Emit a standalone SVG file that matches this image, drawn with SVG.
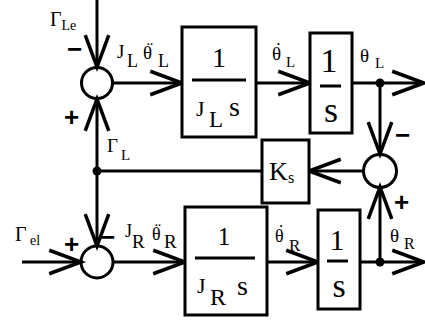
<svg xmlns="http://www.w3.org/2000/svg" width="425" height="320" viewBox="0 0 425 320">
<defs>
<style>
.ln{stroke:#000;stroke-width:3;fill:none}
.ar{marker-end:url(#arr)}
.bx{stroke:#000;stroke-width:3;fill:#fff}
.t{font-family:"Liberation Serif","Times New Roman",serif;fill:#000}
.dm{text-anchor:middle}
.sg{font-family:"Liberation Sans",Arial,sans-serif;font-weight:bold;fill:#000;font-size:26px}
</style>
<marker id="arr" markerUnits="userSpaceOnUse" orient="auto" refX="0" refY="0" markerWidth="40" markerHeight="40" viewBox="-30 -15 34 30" overflow="visible">
<path d="M-27,-10 L0,0 L-27,10" stroke="#000" stroke-width="3" fill="none"/>
</marker>
</defs>
<rect width="425" height="320" fill="#fff"/>
<g id="connectors">
<line class="ln ar" x1="97" y1="0" x2="97" y2="67"/>
<line class="ln ar" x1="112.5" y1="83" x2="182" y2="83"/>
<line class="ln ar" x1="256" y1="83" x2="310" y2="83"/>
<line class="ln ar" x1="352" y1="83" x2="424" y2="83"/>
<line class="ln ar" x1="380" y1="83" x2="380" y2="154"/>
<line class="ln ar" x1="364" y1="171" x2="309" y2="171"/>
<line class="ln" x1="262" y1="171" x2="97" y2="171"/>
<line class="ln ar" x1="97" y1="171" x2="97" y2="99"/>
<line class="ln ar" x1="97" y1="171" x2="97" y2="246"/>
<line class="ln ar" x1="22" y1="262" x2="81" y2="262"/>
<line class="ln ar" x1="113" y1="262" x2="185" y2="262"/>
<line class="ln ar" x1="267" y1="262" x2="318" y2="262"/>
<line class="ln ar" x1="360" y1="262" x2="424" y2="262"/>
<line class="ln ar" x1="380" y1="262" x2="380" y2="187"/>
<circle cx="380" cy="83" r="4.5" fill="#000"/>
<circle cx="97" cy="171" r="4.5" fill="#000"/>
<circle cx="380" cy="262" r="4.5" fill="#000"/>
</g>
<g id="labels">
<text class="t" x="50" y="26" font-size="20">Γ<tspan font-size="14" dy="4">Le</tspan></text>
<text class="t" x="117" y="58" font-size="19">J<tspan font-size="18" x="127" y="67">L</tspan><tspan x="143" y="59">θ</tspan><tspan font-size="18" x="158" y="67">L</tspan></text>
<text class="t dm" x="150" y="55" font-size="19">¨</text>
<text class="t" x="272" y="60" font-size="19">θ<tspan font-size="15" x="286" y="67">L</tspan></text>
<text class="t dm" x="278.5" y="56" font-size="19">˙</text>
<text class="t" x="360" y="62" font-size="19">θ<tspan font-size="15" x="375" y="68">L</tspan></text>
<text class="t" x="107" y="152" font-size="19">Γ<tspan font-size="15" x="121" y="160">L</tspan></text>
<text class="t" x="15" y="241" font-size="20">Γ<tspan font-size="14" x="30" y="245">el</tspan></text>
<text class="t" x="125" y="237" font-size="18">J<tspan font-size="19" x="132" y="248">R</tspan><tspan x="152" y="240">θ</tspan><tspan font-size="19" x="164" y="248">R</tspan></text>
<text class="t dm" x="158" y="236" font-size="18">¨</text>
<text class="t" x="275" y="242" font-size="18">θ<tspan font-size="17" x="289" y="251">R</tspan></text>
<text class="t dm" x="281" y="238" font-size="18">˙</text>
<text class="t" x="390" y="242" font-size="19">θ<tspan font-size="16" x="404" y="249">R</tspan></text>
<text class="sg" x="67" y="58">−</text>
<text class="sg" x="64" y="126">+</text>
<text class="sg" x="100" y="246">−</text>
<text class="sg" x="64" y="253">+</text>
<text class="sg" x="395" y="144">−</text>
<text class="sg" x="394" y="211">+</text>
</g>
<g id="sum_top"><circle class="ln" cx="97" cy="83" r="15.5" fill="#fff"/></g>
<g id="sum_right"><circle class="ln" cx="380" cy="171" r="16.5" fill="#fff"/></g>
<g id="sum_bottom"><circle class="ln" cx="97" cy="262" r="16" fill="#fff"/></g>
<g id="box_JL">
<rect class="bx" x="182" y="27" width="74" height="110"/>
<line class="ln" x1="192" y1="80" x2="246" y2="80"/>
<text class="t" x="219" y="67" font-size="28" text-anchor="middle">1</text>
<text class="t" x="196" y="116" font-size="22">J<tspan font-size="23" x="209" y="127">L</tspan><tspan font-size="28" x="229" y="116">s</tspan></text>
</g>
<g id="box_int_L">
<rect class="bx" x="310" y="33" width="42" height="100"/>
<line class="ln" x1="320" y1="86" x2="341" y2="86"/>
<text class="t" x="329" y="72" font-size="34" text-anchor="middle">1</text>
<text class="t" x="331" y="122" font-size="36" text-anchor="middle">s</text>
</g>
<g id="box_Ks">
<rect class="bx" x="262" y="140" width="47" height="63"/>
<text class="t" x="269" y="180" font-size="26">K<tspan font-size="16" x="288" y="183">s</tspan></text>
</g>
<g id="box_JR">
<rect class="bx" x="185" y="207" width="82" height="108"/>
<line class="ln" x1="195" y1="258" x2="255" y2="258"/>
<text class="t" x="224" y="245" font-size="25" text-anchor="middle">1</text>
<text class="t" x="197" y="293" font-size="22">J<tspan font-size="24" x="210" y="305">R</tspan><tspan font-size="28" x="237" y="295">s</tspan></text>
</g>
<g id="box_int_R">
<rect class="bx" x="318" y="210" width="42" height="99"/>
<line class="ln" x1="327" y1="261" x2="348" y2="261"/>
<text class="t" x="337" y="250" font-size="30" text-anchor="middle">1</text>
<text class="t" x="339" y="297" font-size="34" text-anchor="middle">s</text>
</g>
</svg>
